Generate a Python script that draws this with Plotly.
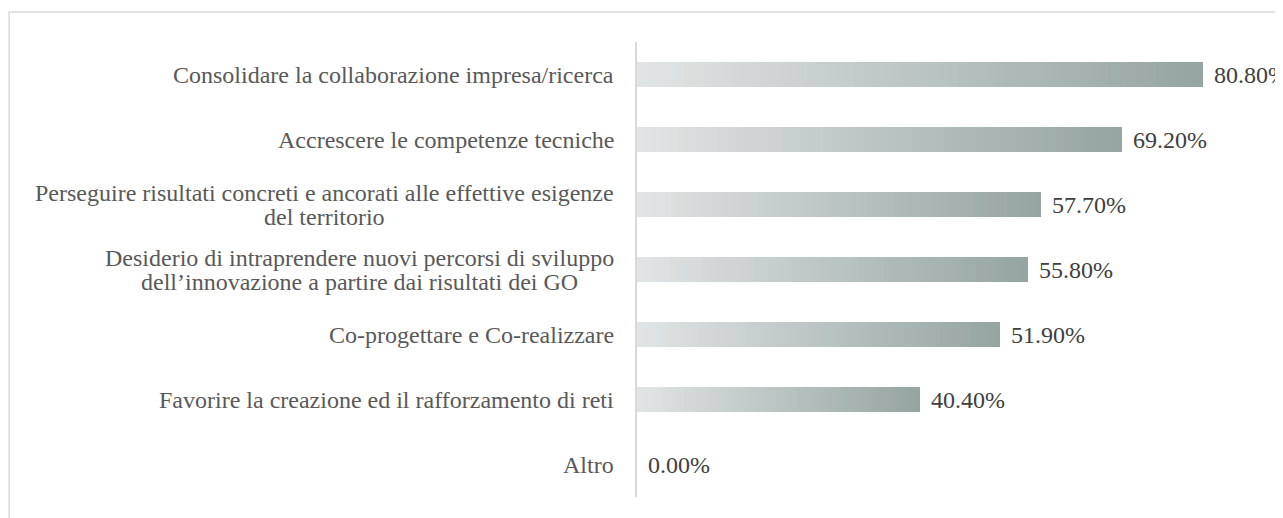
import plotly.graph_objects as go

# Dati
categorie = [
    "Consolidare la collaborazione impresa/ricerca",
    "Accrescere le competenze tecniche",
    "Perseguire risultati concreti e ancorati alle effettive esigenze<br>del territorio",
    "Desiderio di intraprendere nuovi percorsi di sviluppo<br>dell\u2019innovazione a partire dai risultati dei GO",
    "Co-progettare e Co-realizzare",
    "Favorire la creazione ed il rafforzamento di reti",
    "Altro",
]
valori = [80.8, 69.2, 57.7, 55.8, 51.9, 40.4, 0.0]
etichette = ["80.80%", "69.20%", "57.70%", "55.80%", "51.90%", "40.40%", "0.00%"]

# Sfumatura delle barre (da chiaro a scuro)
col_start = (224, 228, 228)
col_end = (150, 165, 162)
n_seg = 60

FONT = "Liberation Serif, Times New Roman, serif"


def interp(t):
    r, g, b = (round(a + (c - a) * t) for a, c in zip(col_start, col_end))
    return f"rgb({r},{g},{b})"


def big(txt, size=24):
    # testo grande ma interlinea stretta (quella del font base dell'annotazione)
    return "<br>".join(f"<span style='font-size:{size}px'>{r}</span>" for r in txt.split("<br>"))


fig = go.Figure()

# ogni barra è divisa in n_seg pezzi impilati per simulare il gradiente
for k in range(n_seg):
    fig.add_trace(
        go.Bar(
            y=categorie,
            x=[v / n_seg for v in valori],
            orientation="h",
            marker=dict(color=interp(k / (n_seg - 1)), line=dict(width=0)),
            width=0.37,
            showlegend=False,
            hoverinfo="skip",
        )
    )

# etichette di categoria (centrate su più righe)
for cat in categorie:
    fig.add_annotation(
        x=0, xref="paper", y=cat, yref="y",
        text=big(cat), showarrow=False,
        xanchor="right", align="center", xshift=-21,
        font=dict(family=FONT, size=18.8, color="#595959"),
    )

# etichette dei valori
for cat, v, lab in zip(categorie, valori, etichette):
    fig.add_annotation(
        x=v, xref="x", y=cat, yref="y",
        text=lab, showarrow=False,
        xanchor="left", xshift=9,
        font=dict(family=FONT, size=24, color="#404040"),
    )

# cornice esterna
fig.add_shape(
    type="rect", xref="paper", yref="paper",
    x0=-0.960, x1=1.2, y0=-0.3, y1=1.066,
    line=dict(color="#d9d9d9", width=1.5),
    fillcolor="rgba(0,0,0,0)", layer="below",
)

fig.update_layout(
    barmode="stack",
    bargap=0,
    width=1283,
    height=518,
    margin=dict(l=629, r=0, t=34, b=29),
    paper_bgcolor="white",
    plot_bgcolor="white",
    xaxis=dict(
        range=[0, 93.4],
        showgrid=False, zeroline=False, showticklabels=False,
        showline=False, ticks="",
    ),
    yaxis=dict(
        categoryorder="array",
        categoryarray=categorie[::-1],
        showticklabels=False,
        showgrid=False, zeroline=False,
        showline=True, linecolor="#d9d9d9", linewidth=1.5,
        ticks="",
    ),
)

fig.write_html("out.html")
